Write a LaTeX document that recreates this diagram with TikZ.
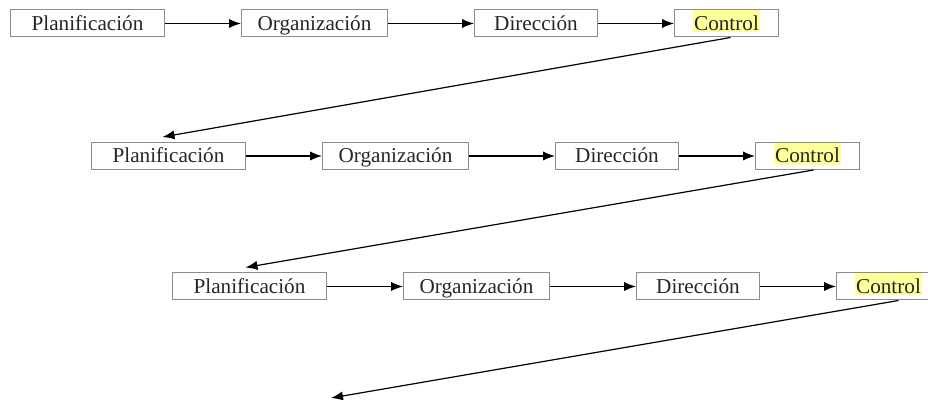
\documentclass[tikz,border=0pt]{standalone}
\usepackage{fontspec}
\setmainfont{Liberation Serif}
\usetikzlibrary{arrows.meta,positioning,calc}
\definecolor{boxGray}{HTML}{8C8C8C}
\definecolor{ctrlYellow}{HTML}{FFFF99}
\newcommand{\resalta}[1]{{\setlength{\fboxsep}{0pt}\colorbox{ctrlYellow}{\rule[-1pt]{0pt}{11pt}\hspace{0.6pt}#1\hspace{0.6pt}}}}

\begin{document}
\begin{tikzpicture}[x=0.5pt,y=-0.5pt,node distance=38pt,
    etapa/.style={draw=boxGray,line width=0.5pt,inner sep=0pt,minimum height=13.5pt,
      text height=7.6pt,text depth=0.7pt,
      text=black!85,font=\fontsize{10.6}{13}\selectfont},
    flecha/.style={-{Latex[length=6pt,width=4.6pt]},line width=0.6pt}]
  \useasboundingbox (0,0) rectangle (928,400);
  \clip (0,0) rectangle (928,400);
  % fila 1
  \node[etapa,minimum width=77pt] (p1) at (87.5,23.5) {Planificación};
  \node[etapa,minimum width=73pt,right=of p1] (o1) {Organización};
  \node[etapa,minimum width=61.5pt,right=43pt of o1] (d1) {Dirección};
  \node[etapa,minimum width=52pt,right=of d1] (c1) {\resalta{Control}};
  % fila 2
  \node[etapa,minimum width=77pt] (p2) at (168.5,156) {Planificación};
  \node[etapa,minimum width=73pt,right=of p2] (o2) {Organización};
  \node[etapa,minimum width=61.5pt,right=43pt of o2] (d2) {Dirección};
  \node[etapa,minimum width=52pt,right=of d2] (c2) {\resalta{Control}};
  % fila 3
  \node[etapa,minimum width=77pt] (p3) at (249.5,286.5) {Planificación};
  \node[etapa,minimum width=73pt,right=of p3] (o3) {Organización};
  \node[etapa,minimum width=61.5pt,right=43pt of o3] (d3) {Dirección};
  \node[etapa,minimum width=52pt,right=of d3] (c3) {\resalta{Control}};
  \coordinate (sig) at (331,398);
  % flechas
  \draw[flecha] (p1) -- (o1);
  \draw[flecha] (o1) -- (d1);
  \draw[flecha] (d1) -- (c1);
  \draw[flecha] (p2) -- (o2);
  \draw[flecha] (o2) -- (d2);
  \draw[flecha] (d2) -- (c2);
  \draw[flecha] (p3) -- (o3);
  \draw[flecha] (o3) -- (d3);
  \draw[flecha] (d3) -- (c3);
  \draw[flecha] ([xshift=2pt]c1.south) -- ([xshift=-3pt,yshift=2.5pt]p2.north);
  \draw[flecha] ([xshift=3pt]c2.south) -- ([xshift=-2pt,yshift=2.5pt]p3.north);
  \draw[flecha] ([xshift=5pt]c3.south) -- (sig);
\end{tikzpicture}
\end{document}
